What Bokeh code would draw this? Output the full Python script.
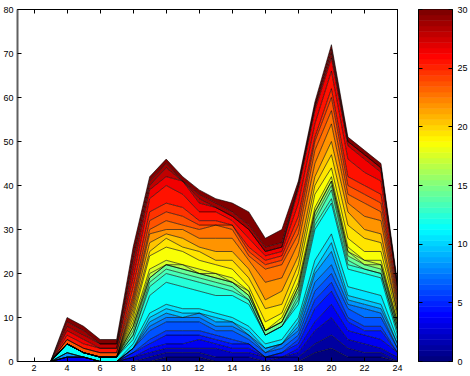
import numpy as np
from bokeh.plotting import figure
from bokeh.models import ColumnDataSource, LinearAxis, FixedTicker, Range1d
from bokeh.layouts import row
from bokeh.embed import file_html
from bokeh.resources import INLINE

hours = list(range(1, 25))

layer_01 = [0,0,0,0,0,0,0, 0,0,1,1,1,0,0,0,0,0,0,2,3,1,1,1,0]
layer_02 = [0,0,0,0,0,0,0, 0,1,1,1,1,1,1,1,0,1,1,2,3,2,1,1,0]
layer_03 = [0,0,0,0,0,0,0, 1,1,1,1,1,2,1,1,1,0,1,3,4,2,2,1,1]
layer_04 = [0,0,0,1,1,0,0, 0,1,1,1,2,1,1,1,0,0,1,2,3,2,2,2,1]
layer_05 = [0,0,0,0,0,0,0, 1,1,2,2,1,1,1,1,0,1,1,3,3,2,1,2,0]
layer_06 = [0,0,0,0,0,0,0, 0,1,1,1,1,1,1,0,0,0,1,2,2,1,1,1,0]
layer_07 = [0,0,0,0,0,0,0, 1,2,2,2,2,1,2,1,1,1,1,2,2,2,2,2,1]
layer_08 = [0,0,0,0,0,0,0, 0,1,1,1,1,1,1,1,0,1,1,2,2,1,2,1,0]
layer_09 = [0,0,0,1,0,0,0, 0,1,1,0,1,1,1,0,1,0,1,2,3,1,1,1,1]
layer_10 = [0,0,0,0,0,0,0, 0,1,1,1,0,1,0,1,0,0,1,1,2,1,1,1,0]
layer_11 = [0,0,0,0,0,0,0, 1,1,1,1,1,1,1,1,1,1,1,2,2,2,2,2,1]
layer_12 = [0,0,0,2,1,1,1, 1,4,5,5,4,4,5,5,2,3,3,7,7,4,4,4,1]
layer_13 = [0,0,0,0,0,0,0, 1,2,2,2,2,2,1,1,0,0,1,1,1,1,1,1,1]
layer_14 = [0,0,0,0,0,0,0, 0,1,1,1,1,1,1,0,0,0,1,1,2,1,0,0,0]
layer_15 = [0,0,0,0,0,0,0, 1,1,1,1,1,1,1,1,1,1,1,1,1,1,1,1,1]
layer_16 = [0,0,0,0,0,0,0, 1,0,0,0,0,0,0,0,0,0,1,1,1,1,0,1,0]
layer_17 = [0,0,0,0,0,0,0, 0,1,0,1,0,1,0,1,0,0,0,0,0,0,1,0,1]
layer_18 = [0,0,0,0,0,0,0, 1,1,1,0,1,0,1,0,0,1,1,1,1,1,0,1,0]
layer_19 = [0,0,0,0,0,0,0, 1,3,3,3,2,2,2,1,2,1,2,3,2,2,2,2,1]
layer_20 = [0,0,0,0,0,0,0, 1,1,2,1,2,1,2,2,3,2,2,2,3,3,3,2,1]
layer_21 = [0,0,0,0,0,0,0, 1,2,1,2,1,2,2,2,2,3,2,2,3,3,2,2,0]
layer_22 = [0,0,0,0,0,0,0, 1,2,1,2,2,3,3,2,4,3,3,3,4,2,3,3,1]
layer_23 = [0,0,0,0,0,0,0, 1,1,2,1,2,3,2,1,3,3,2,3,3,2,3,2,1]
layer_24 = [0,0,0,1,1,1,1, 1,2,2,2,1,0,1,1,1,1,2,2,3,2,2,2,1]
layer_25 = [0,0,0,0,0,0,0, 2,2,2,2,1,1,0,1,1,1,2,1,2,2,2,2,1]
layer_26 = [0,0,0,1,1,1,1, 2,3,4,3,2,2,1,2,1,1,3,3,4,4,3,3,1]
layer_27 = [0,0,0,1,1,0,0, 2,2,2,3,2,1,1,2,1,1,3,3,3,3,3,2,1]
layer_28 = [0,0,0,1,1,1,1, 2,1,2,0,1,0,0,0,0,0,1,1,1,1,1,1,0]
layer_29 = [0,0,0,1,1,0,0, 1,1,1,0,1,1,1,1,1,1,0,0,1,0,0,0,0]
layer_30 = [0,0,0,1,1,1,1, 2,1,1,1,1,1,2,3,2,3,1,1,1,1,1,1,1]

totals = [0,0,0,10,8,5,5,26,42,46,42,39,37,36,34,28,30,41,59,72,51,48,45,18]

layers = [layer_01, layer_02, layer_03, layer_04, layer_05, layer_06, layer_07,
          layer_08, layer_09, layer_10, layer_11, layer_12, layer_13, layer_14,
          layer_15, layer_16, layer_17, layer_18, layer_19, layer_20, layer_21,
          layer_22, layer_23, layer_24, layer_25, layer_26, layer_27, layer_28,
          layer_29, layer_30]
sums = list(np.sum(np.array(layers), axis=0))
assert all(len(l) == 24 for l in layers)
assert sums == totals, str(list(zip(hours, sums, totals)))

x_ticks = [2, 4, 6, 8, 10, 12, 14, 16, 18, 20, 22, 24]
y_ticks = [0, 10, 20, 30, 40, 50, 60, 70, 80]
cb_ticks = [0, 5, 10, 15, 20, 25, 30]
cb_low, cb_high = 0, 30


def jet(t):
    def c(v):
        return int(round(255 * min(max(v, 0.0), 1.0)))
    r = 1.5 - abs(4 * t - 3)
    g = 1.5 - abs(4 * t - 2)
    b = 1.5 - abs(4 * t - 1)
    return "#%02x%02x%02x" % (c(r), c(g), c(b))


jet64 = [jet(i / 63) for i in range(64)]
n_layers = len(layers)
layer_colors = [jet64[int(round(k * 63 / (n_layers - 1)))] for k in range(n_layers)]

names = ["L%02d" % (k + 1) for k in range(n_layers)]
data = {"x": hours}
for n, l in zip(names, layers):
    data[n] = l
src = ColumnDataSource(data)

FONT = "Liberation Sans"
FS = "9px"
TOP, BOT = 9, 15


def style_axis(ax):
    ax.major_tick_in = 4
    ax.major_tick_out = 0
    ax.minor_tick_in = 4
    ax.minor_tick_out = 0
    ax.axis_line_color = "black"
    ax.major_tick_line_color = "black"
    ax.minor_tick_line_color = "black"
    ax.major_label_text_font = FONT
    ax.major_label_text_font_size = FS
    ax.major_label_text_color = "black"


p = figure(width=405, height=376, x_range=Range1d(1, 24), y_range=Range1d(0, 80),
           output_backend="svg", toolbar_location=None,
           min_border_left=15, min_border_right=8, min_border_top=TOP, min_border_bottom=BOT)
p.varea_stack(stackers=names, x="x", color=layer_colors, source=src)
p.vline_stack(stackers=names, x="x", color="black", line_width=0.6, source=src)

p.xgrid.visible = False
p.ygrid.visible = False
p.outline_line_color = "black"
p.outline_line_width = 1
p.background_fill_color = "white"
p.border_fill_color = "white"

p.xaxis.ticker = FixedTicker(ticks=x_ticks)
p.yaxis.ticker = FixedTicker(ticks=y_ticks)
p.xaxis.major_label_standoff = 3
p.yaxis.major_label_standoff = 4

# unlabelled tick marks on the top and right edges (drawn as minor ticks)
top_ax = LinearAxis(ticker=FixedTicker(ticks=[], minor_ticks=x_ticks))
right_ax = LinearAxis(ticker=FixedTicker(ticks=[], minor_ticks=y_ticks))
p.add_layout(top_ax, "above")
p.add_layout(right_ax, "right")

for ax in p.axis:
    style_axis(ax)
p.yaxis[0].axis_line_color = "#606060"
p.yaxis[0].axis_line_width = 2

# colour bar
p2 = figure(width=65, height=376, x_range=Range1d(0, 1), y_range=Range1d(cb_low, cb_high),
            output_backend="svg", toolbar_location=None, y_axis_location="right",
            min_border_left=13, min_border_right=17, min_border_top=TOP, min_border_bottom=BOT)
levels = np.linspace(cb_low, cb_high, len(jet64) + 1)
p2.quad(left=0, right=1, bottom=levels[:-1], top=levels[1:], fill_color=jet64,
        line_color=jet64, line_width=0.5)
p2.xaxis.visible = False
p2.xgrid.visible = False
p2.ygrid.visible = False
p2.outline_line_color = "black"
p2.background_fill_color = "white"
p2.border_fill_color = "white"
p2.yaxis.ticker = FixedTicker(ticks=cb_ticks)
left_ax = LinearAxis(ticker=FixedTicker(ticks=[], minor_ticks=cb_ticks))
p2.add_layout(left_ax, "left")
for ax in p2.yaxis:
    style_axis(ax)
p2.yaxis[0].major_label_standoff = 3

layout = row(p, p2)
open("out.html", "w").write(file_html(layout, INLINE))
